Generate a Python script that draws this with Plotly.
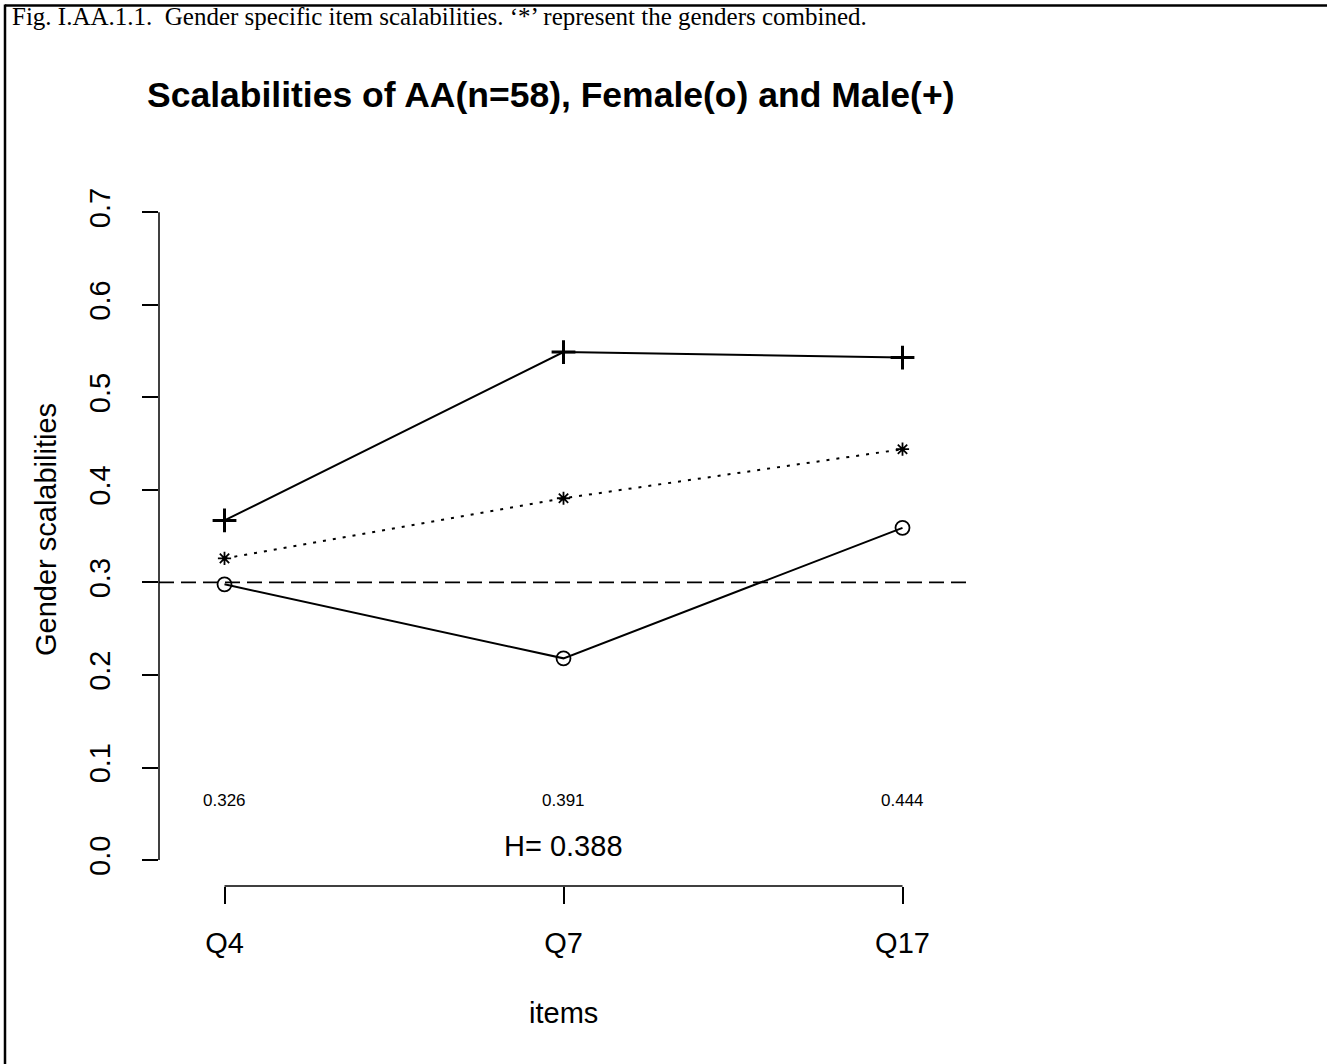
import plotly.graph_objects as go

# Items and gender-specific scalabilities
items = ["Q4", "Q7", "Q17"]
item_pos = [1, 2, 3]
female_h = [0.298, 0.218, 0.359]
male_h = [0.367, 0.549, 0.543]
combined_h = [0.326, 0.391, 0.444]
total_h = 0.388
reference_h = 0.3

y_ticks = [0.0, 0.1, 0.2, 0.3, 0.4, 0.5, 0.6, 0.7]
y_tick_text = ["0.0", "0.1", "0.2", "0.3", "0.4", "0.5", "0.6", "0.7"]

W, H = 1327, 1064
SANS = "Liberation Sans, Arial, sans-serif"
SERIF = "Liberation Serif, Times New Roman, serif"


def px(x):
    return x / W


def py(y):
    return 1 - y / H


fig = go.Figure()

# Male (+)
fig.add_trace(go.Scatter(
    x=item_pos, y=male_h, mode="lines+markers",
    line=dict(color="black", width=2),
    marker=dict(symbol="cross-thin-open", size=17, line=dict(color="black", width=3)),
    showlegend=False, hoverinfo="skip"))

# Female (o)
fig.add_trace(go.Scatter(
    x=item_pos, y=female_h, mode="lines+markers",
    line=dict(color="black", width=2),
    marker=dict(symbol="circle-open", size=14, color="black", line=dict(color="black", width=1.8)),
    showlegend=False, hoverinfo="skip"))

# Both genders combined (*)
fig.add_trace(go.Scatter(
    x=item_pos, y=combined_h, mode="lines+markers",
    line=dict(color="black", width=2, dash="3px,7px"),
    marker=dict(symbol="asterisk-open", size=11, line=dict(color="black", width=1.8)),
    showlegend=False, hoverinfo="skip"))

# Reference level for scalability
fig.add_shape(type="line", xref="x domain", yref="y", x0=0, x1=1,
              y0=reference_h, y1=reference_h,
              line=dict(color="black", width=1.8, dash="15px,7px"))

# Axis lines spanning only the tick range
fig.add_shape(type="line", xref="x domain", yref="y", x0=0, x1=0,
              y0=y_ticks[0], y1=y_ticks[-1], line=dict(color="black", width=1.5))
fig.add_shape(type="line", xref="x", yref="y domain", x0=item_pos[0], x1=item_pos[-1],
              y0=0, y1=0, line=dict(color="black", width=1.5))

# Page frame
fig.add_shape(type="line", xref="paper", yref="paper", x0=px(5), x1=1, y0=py(5.5), y1=py(5.5),
              line=dict(color="black", width=2.5))
fig.add_shape(type="line", xref="paper", yref="paper", x0=px(5), x1=px(5), y0=py(4.5), y1=0,
              line=dict(color="black", width=2.5))

annotations = []
# Per-item combined scalabilities
for xv, hv in zip(item_pos, combined_h):
    annotations.append(dict(x=xv, y=0.064, xref="x", yref="y", text=f"{hv:.3f}",
                            showarrow=False, font=dict(family=SANS, size=17, color="black")))
# Overall scalability
annotations.append(dict(x=2, y=0.015, xref="x", yref="y", text=f"H= {total_h:.3f}",
                        showarrow=False, font=dict(family=SANS, size=29, color="black")))
# Caption
annotations.append(dict(x=px(10), y=py(17), xref="paper", yref="paper", xanchor="left", yanchor="middle",
                        text="Fig. I.AA.1.1.  Gender specific item scalabilities. \u2018*\u2019 represent the genders combined.",
                        showarrow=False, font=dict(family=SERIF, size=25, color="black")))
# Main title
annotations.append(dict(x=px(551), y=py(95), xref="paper", yref="paper", xanchor="center", yanchor="middle",
                        text="<b>Scalabilities of AA(n=58), Female(o) and Male(+)</b>",
                        showarrow=False, font=dict(family=SANS, size=35.5, color="black")))
# Axis titles
annotations.append(dict(x=px(46), y=py(530), xref="paper", yref="paper", xanchor="center", yanchor="middle",
                        text="Gender scalabilities", textangle=-90,
                        showarrow=False, font=dict(family=SANS, size=29, color="black")))
annotations.append(dict(x=px(563), y=py(1013), xref="paper", yref="paper", xanchor="center", yanchor="middle",
                        text="items", showarrow=False, font=dict(family=SANS, size=29, color="black")))

fig.update_layout(
    width=W, height=H,
    margin=dict(l=0, r=0, t=0, b=0),
    paper_bgcolor="white", plot_bgcolor="white",
    showlegend=False,
    annotations=annotations,
    xaxis=dict(domain=[px(159), px(968)], range=[0.8068, 3.1932],
               tickvals=item_pos, ticktext=items, ticks="outside", ticklen=17, tickwidth=1.5,
               tickcolor="black", showline=False, showgrid=False, zeroline=False,
               ticklabelstandoff=14,
               tickfont=dict(family=SANS, size=29, color="black")),
    yaxis=dict(domain=[1 - 886 / H, 1 - 186.4 / H], range=[-0.028, 0.728],
               tickvals=y_ticks, ticktext=y_tick_text, tickangle=-90,
               ticks="outside", ticklen=16, tickwidth=1.5, tickcolor="black",
               showline=False, showgrid=False, zeroline=False,
               ticklabelstandoff=20,
               tickfont=dict(family=SANS, size=29, color="black")),
)

fig.write_html("out.html")
